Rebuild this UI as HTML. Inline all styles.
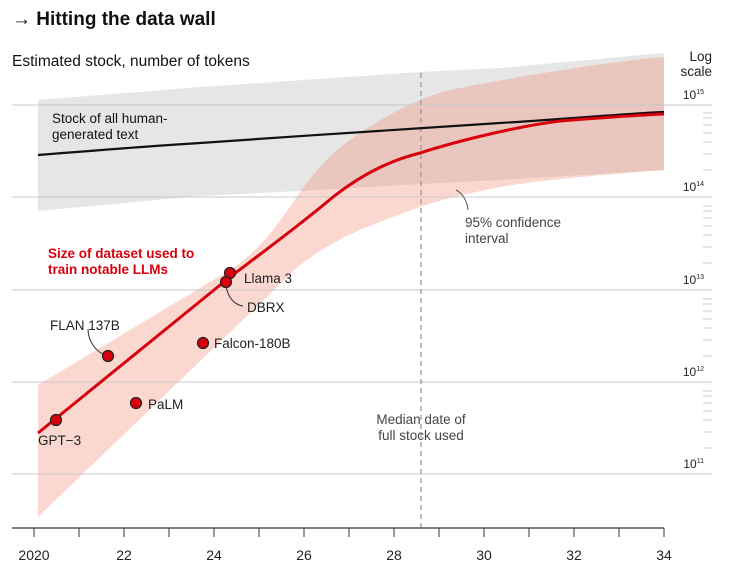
<!DOCTYPE html>
<html><head><meta charset="utf-8"><style>
body{margin:0;background:#fff;}
svg{display:block;font-family:"Liberation Sans",sans-serif;}
</style></head><body>
<svg width="736" height="572" viewBox="0 0 736 572">
<text x="12" y="25" font-size="19" font-weight="bold" fill="#111">→ Hitting the data wall</text>
<text x="12" y="66" font-size="15.5" fill="#111">Estimated stock, number of tokens</text>
<text x="712" y="61" font-size="13.5" fill="#222" text-anchor="end">Log</text>
<text x="712" y="76" font-size="13.5" fill="#222" text-anchor="end">scale</text>
<!-- gray band -->
<path d="M38,100 L200,87 L420,72 L500,68 L664,53 L664,170 L500,180 L420,184 L300,191 L200,196 L38,211 Z" fill="#e6e6e6"/>
<!-- red CI band -->
<path d="M38,385 L230,270 C258,253 280,222 300,192 C318,167 335,150 350,140 C380,118 420,97 450,90 C500,80 600,62 664,57 L664,170 C600,175 540,180 500,187 C460,195 440,200 420,207 C400,214 385,220 367,227 C340,238 320,250 300,265 L38,517 Z" fill="#f08a70" fill-opacity="0.33"/>
<!-- gridlines -->
<g stroke="#c8c8c8" stroke-width="1">
<line x1="12" y1="105" x2="712" y2="105"/>
<line x1="12" y1="197" x2="712" y2="197"/>
<line x1="12" y1="290" x2="712" y2="290"/>
<line x1="12" y1="382" x2="712" y2="382"/>
<line x1="12" y1="474" x2="712" y2="474"/>
</g>
<g stroke="#ccc" stroke-width="1">
<line x1="703" y1="113" x2="712" y2="113"/><line x1="703" y1="118" x2="712" y2="118"/><line x1="703" y1="125" x2="712" y2="125"/><line x1="703" y1="133" x2="712" y2="133"/><line x1="703" y1="142" x2="712" y2="142"/><line x1="703" y1="154" x2="712" y2="154"/><line x1="703" y1="170" x2="712" y2="170"/>
<line x1="703" y1="206" x2="712" y2="206"/><line x1="703" y1="211" x2="712" y2="211"/><line x1="703" y1="218" x2="712" y2="218"/><line x1="703" y1="226" x2="712" y2="226"/><line x1="703" y1="235" x2="712" y2="235"/><line x1="703" y1="247" x2="712" y2="247"/><line x1="703" y1="263" x2="712" y2="263"/>
<line x1="703" y1="299" x2="712" y2="299"/><line x1="703" y1="304" x2="712" y2="304"/><line x1="703" y1="311" x2="712" y2="311"/><line x1="703" y1="319" x2="712" y2="319"/><line x1="703" y1="328" x2="712" y2="328"/><line x1="703" y1="340" x2="712" y2="340"/><line x1="703" y1="356" x2="712" y2="356"/>
<line x1="703" y1="391" x2="712" y2="391"/><line x1="703" y1="396" x2="712" y2="396"/><line x1="703" y1="403" x2="712" y2="403"/><line x1="703" y1="411" x2="712" y2="411"/><line x1="703" y1="420" x2="712" y2="420"/><line x1="703" y1="432" x2="712" y2="432"/><line x1="703" y1="448" x2="712" y2="448"/>
</g>
<g font-size="12" fill="#222" text-anchor="end">
<text x="704" y="99">10<tspan font-size="7" dy="-5">15</tspan></text>
<text x="704" y="191">10<tspan font-size="7" dy="-5">14</tspan></text>
<text x="704" y="284">10<tspan font-size="7" dy="-5">13</tspan></text>
<text x="704" y="376">10<tspan font-size="7" dy="-5">12</tspan></text>
<text x="704" y="468">10<tspan font-size="7" dy="-5">11</tspan></text>
</g>
<!-- dashed median -->
<line x1="421" y1="73" x2="421" y2="528" stroke="#999" stroke-width="1.3" stroke-dasharray="5,4"/>
<!-- black line -->
<path d="M38,155 C100,150 150,146 200,143 C300,136 420,128 500,123 C580,118 620,114 664,112" fill="none" stroke="#111" stroke-width="2.2"/>
<!-- red line -->
<path d="M38,433 L230,277 C255,258 300,225 333,197 C370,168 400,158 420,153 C460,140 520,126 560,121 C610,117 640,115 664,114" fill="none" stroke="#d9000d" stroke-width="3"/>
<!-- leader lines -->
<path d="M88,329 C88,340 95,352 106,355" fill="none" stroke="#333" stroke-width="1"/>
<path d="M226,286 C228,298 235,305 243,306" fill="none" stroke="#333" stroke-width="1"/>
<path d="M456,190 C462,193 467,200 468,210" fill="none" stroke="#555" stroke-width="1"/>
<!-- points -->
<g fill="#d9000d" stroke="#222" stroke-width="1.2">
<circle cx="56" cy="420" r="5.5"/>
<circle cx="136" cy="403" r="5.5"/>
<circle cx="108" cy="356" r="5.5"/>
<circle cx="203" cy="343" r="5.5"/>
<circle cx="230" cy="273" r="5.5"/>
<circle cx="226" cy="282" r="5.5"/>
</g>
<g font-size="13.5" fill="#222">
<text x="38" y="445">GPT−3</text>
<text x="148" y="409">PaLM</text>
<text x="50" y="330">FLAN 137B</text>
<text x="214" y="348">Falcon-180B</text>
<text x="244" y="283">Llama 3</text>
<text x="247" y="312">DBRX</text>
</g>
<g font-size="13.5" fill="#111">
<text x="52" y="123">Stock of all human-</text>
<text x="52" y="139">generated text</text>
</g>
<g font-size="13.5" fill="#d9000d" font-weight="bold">
<text x="48" y="258">Size of dataset used to</text>
<text x="48" y="274">train notable LLMs</text>
</g>
<g font-size="13.5" fill="#444">
<text x="465" y="227">95% confidence</text>
<text x="465" y="243">interval</text>
<text x="421" y="424" text-anchor="middle">Median date of</text>
<text x="421" y="440" text-anchor="middle">full stock used</text>
</g>
<!-- x axis -->
<line x1="12" y1="528" x2="664" y2="528" stroke="#333" stroke-width="1.3"/>
<g stroke="#333" stroke-width="1">
<line x1="34" y1="528" x2="34" y2="537"/><line x1="79" y1="528" x2="79" y2="537"/><line x1="124" y1="528" x2="124" y2="537"/><line x1="169" y1="528" x2="169" y2="537"/><line x1="214" y1="528" x2="214" y2="537"/><line x1="259" y1="528" x2="259" y2="537"/><line x1="304" y1="528" x2="304" y2="537"/><line x1="349" y1="528" x2="349" y2="537"/><line x1="394" y1="528" x2="394" y2="537"/><line x1="439" y1="528" x2="439" y2="537"/><line x1="484" y1="528" x2="484" y2="537"/><line x1="529" y1="528" x2="529" y2="537"/><line x1="574" y1="528" x2="574" y2="537"/><line x1="619" y1="528" x2="619" y2="537"/><line x1="664" y1="528" x2="664" y2="537"/>
</g>
<g font-size="14" fill="#222" text-anchor="middle">
<text x="34" y="560">2020</text><text x="124" y="560">22</text><text x="214" y="560">24</text><text x="304" y="560">26</text><text x="394" y="560">28</text><text x="484" y="560">30</text><text x="574" y="560">32</text><text x="664" y="560">34</text>
</g>
</svg>
</body></html>
